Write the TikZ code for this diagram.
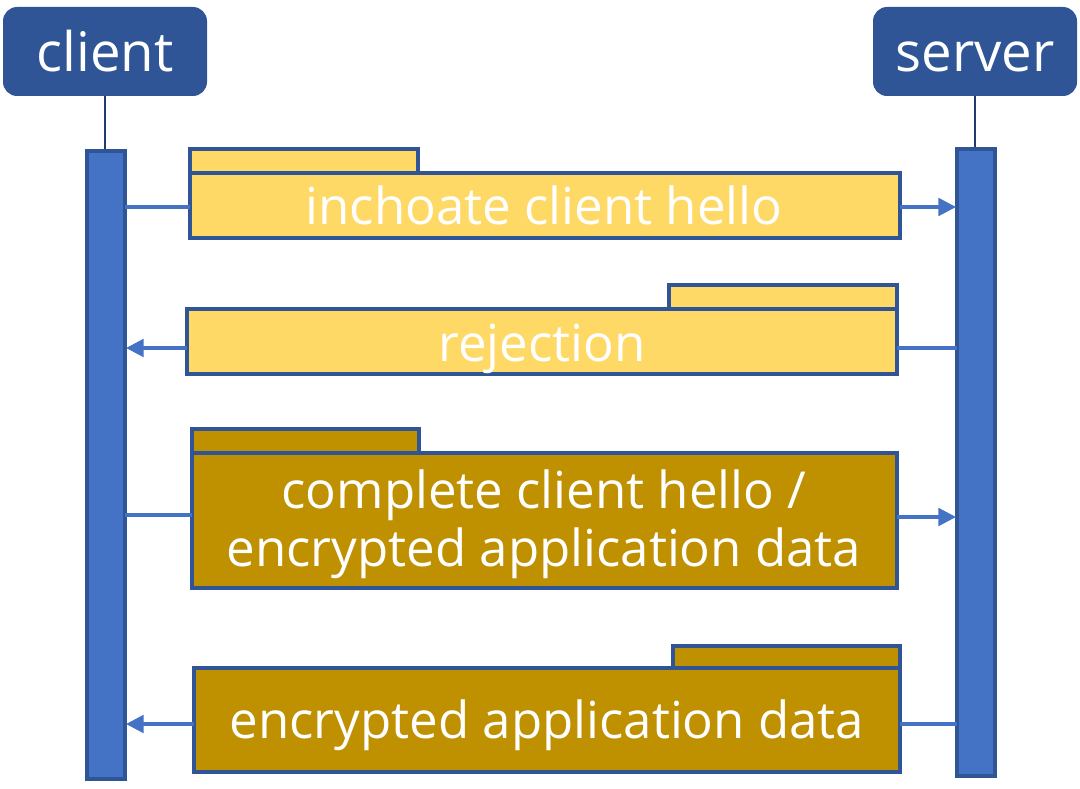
\documentclass[tikz,border=0pt]{standalone}
\usepackage{fontspec}
\setmainfont{Open Sans}
\usetikzlibrary{arrows.meta}
\definecolor{hdr}{HTML}{2F5597}
\definecolor{barc}{HTML}{4472C4}
\definecolor{yel}{HTML}{FFD966}
\definecolor{gold}{HTML}{BF9000}
\begin{document}
\begin{tikzpicture}[x=0.01cm,y=-0.01cm,
  hdrtext/.style={text=white,font=\fontsize{15.5}{18}\selectfont,anchor=base},
  lifebar/.style={fill=barc,draw=hdr,line width=0.9pt},
  msgbox/.style={draw=hdr,line width=0.9pt},
  msgtext/.style={text=white,font=\fontsize{14.5}{17.5}\selectfont,align=center},
  conn/.style={draw=barc,line width=0.9pt},
  arr/.style={conn,-{Triangle[length=5pt,width=5pt]}},
  lifeline/.style={draw=hdr!70!black,line width=0.35pt}]
\useasboundingbox (0,0) rectangle (1080,788);
% headers
\fill[hdr,rounded corners=4pt] (3,7) rectangle (207,96);
\node[hdrtext] (client) at (105,72) {client};
\fill[hdr,rounded corners=4pt] (873,7) rectangle (1077,96);
\node[hdrtext] (server) at (975,72) {server};
% lifelines
\draw[lifeline] (105,96) -- (105,150);
\draw[lifeline] (975,96) -- (975,148);
\draw[lifebar] (87,151) rectangle (125,779);
\draw[lifebar] (957,149) rectangle (995,776);
% message 1
\draw[msgbox,fill=yel] (190,149) rectangle (418,173);
\draw[msgbox,fill=yel] (190,173) rectangle (900,238);
\node[msgtext,anchor=base] (m1) at (544,224) {inchoate client hello};
\draw[conn] (125,207) -- (190,207);
\draw[arr] (900,207) -- (956,207);
% message 2
\draw[msgbox,fill=yel] (669,285) rectangle (897,309);
\draw[msgbox,fill=yel] (187,309) rectangle (897,374);
\node[msgtext,anchor=base] (m2) at (542,361) {rejection};
\draw[conn] (957,348) -- (897,348);
\draw[arr] (187,348) -- (126,348);
% message 3
\draw[msgbox,fill=gold] (192,429) rectangle (419,453);
\draw[msgbox,fill=gold] (192,453) rectangle (897,588);
\node[msgtext] (m3) at (544,524) {complete client hello /\\[-1pt]encrypted application data};
\draw[conn] (125,515) -- (192,515);
\draw[arr] (897,517) -- (956,517);
% message 4
\draw[msgbox,fill=gold] (673,646) rectangle (900,668);
\draw[msgbox,fill=gold] (194,668) rectangle (900,772);
\node[msgtext,anchor=base] (m4) at (547,738) {encrypted application data};
\draw[conn] (957,724) -- (900,724);
\draw[arr] (194,724) -- (126,724);
\end{tikzpicture}
\end{document}
